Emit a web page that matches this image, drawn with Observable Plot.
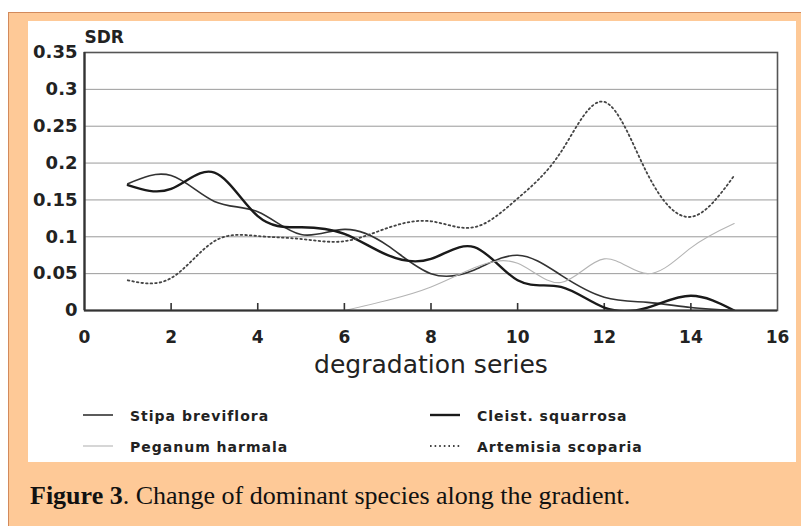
<!DOCTYPE html>
<html>
<head>
<meta charset="utf-8">
<script src="https://cdn.jsdelivr.net/npm/d3@7"></script>
<script src="https://cdn.jsdelivr.net/npm/@observablehq/plot@0.6"></script>
<style>
  html, body { margin: 0; padding: 0; background: #fff; width: 801px; height: 526px; overflow: hidden; }
  #outer { position: absolute; left: 8px; top: 12px; width: 800px; height: 520px; background: #fec997; border: 1px solid #d28a5c; }
  #panel { position: absolute; left: 28px; top: 21px; width: 768px; height: 441px; background: #fff; }
  #plot { position: absolute; left: 0; top: 0; }
  #legend { position: absolute; left: 0; top: 370px; }
  #caption { position: absolute; left: 30px; top: 483px; font-family: "Liberation Serif", "Times New Roman", serif; font-size: 26px; line-height: 26px; color: #111; white-space: nowrap; }
</style>
</head>
<body>
<div id="outer"></div>
<div id="panel"><div id="plot"></div><div id="legend"></div></div>
<div id="caption"><b>Figure 3</b>. Change of dominant species along the gradient.</div>
<script>
// ---- data ----
const sites = [1, 2, 3, 4, 5, 6, 7, 8, 9, 10, 11, 12, 13, 14, 15];
const stipa    = [0.172, 0.183, 0.148, 0.134, 0.103, 0.110, 0.088, 0.050, 0.055, 0.075, 0.048, 0.018, 0.011, 0.004, 0.000];
const cleist   = [0.170, 0.165, 0.187, 0.128, 0.113, 0.104, 0.075, 0.070, 0.086, 0.041, 0.032, 0.004, 0.004, 0.020, 0.000];
const peganumSites = [6, 7, 8, 9, 10, 11, 12, 13, 14, 15];
const peganum  = [0.000, 0.014, 0.032, 0.058, 0.064, 0.038, 0.070, 0.050, 0.085, 0.118];
const artemisia = [0.041, 0.044, 0.094, 0.101, 0.097, 0.094, 0.112, 0.121, 0.113, 0.152, 0.215, 0.283, 0.185, 0.127, 0.183];

const seriesNames = ["Stipa breviflora", "Cleist. squarrosa", "Peganum harmala", "Artemisia scoparia"];
const xTicks = [0, 2, 4, 6, 8, 10, 12, 14, 16];
const xTickMarks = [2, 4, 6, 8, 10, 12, 14];
const yTicks = [0, 0.05, 0.1, 0.15, 0.2, 0.25, 0.3, 0.35];
const yTickLabels = ["0", "0.05", "0.1", "0.15", "0.2", "0.25", "0.3", "0.35"];
const gridVals = [0.05, 0.1, 0.15, 0.2, 0.25, 0.3];
const yTitle = "SDR";
const xTitle = "degradation series";

// ---- styles ----
const styles = [
  {stroke: "#333", strokeWidth: 1.6},
  {stroke: "#1a1a1a", strokeWidth: 2.4},
  {stroke: "#b4b4b4", strokeWidth: 1.1},
  {stroke: "#444", strokeWidth: 1.8, strokeDasharray: "1.6,3"}
];

const rows = (xsArr, ys) => xsArr.map((x, i) => ({x, y: ys[i]}));
const lines = [
  rows(sites, stipa),
  rows(sites, cleist),
  rows(peganumSites, peganum),
  rows(sites, artemisia)
];

const W = 768, H = 370, mT = 31, mR = 19, mB = 81, mL = 56;
const innerH = H - mT - mB;

const chart = Plot.plot({
  width: W, height: H,
  marginTop: mT, marginRight: mR, marginBottom: mB, marginLeft: mL,
  x: {domain: [0, 16]},
  y: {domain: [0, 0.35]},
  style: {fontFamily: "DejaVu Sans", background: "transparent", color: "#222", overflow: "visible"},
  marks: [
    Plot.ruleY(gridVals, {stroke: "#9a9a9a", strokeWidth: 1}),
    Plot.ruleX(xTickMarks, {insetTop: innerH - 7, stroke: "#333", strokeWidth: 1.6}),
    ...lines.map((d, i) => Plot.line(d, {x: "x", y: "y", curve: "natural", clip: true, ...styles[i]})),
    Plot.frame({stroke: "#555", strokeWidth: 1.6}),
    Plot.ruleY([0], {stroke: "#333", strokeWidth: 2.2}),
    Plot.ruleX([0], {stroke: "#333", strokeWidth: 2.2}),
    Plot.axisY({ticks: yTicks, tickSize: 0, tickPadding: 7, tickFormat: (d, i) => yTickLabels[i],
      fontSize: 18, fontWeight: "bold", label: null, fill: "#222"}),
    Plot.axisX({ticks: xTicks, tickSize: 0, tickPadding: 20, fontSize: 17, fontWeight: "bold", label: null, fill: "#222"}),
    Plot.text([yTitle], {text: d => d, frameAnchor: "top-left", textAnchor: "start", lineAnchor: "bottom",
      dy: -10, fontSize: 17, fontWeight: "bold", fill: "#222"}),
    Plot.text([xTitle], {text: d => d, frameAnchor: "bottom", lineAnchor: "bottom",
      dy: 62, fontSize: 25, fill: "#222"})
  ]
});
document.getElementById("plot").appendChild(chart);

// ---- legend ----
const legendPos = [
  {lx: 55, tx: 102, row: 0},
  {lx: 402, tx: 449, row: 0},
  {lx: 55, tx: 102, row: 1},
  {lx: 402, tx: 449, row: 1}
];
const lg = d3.select("#legend").append("svg").attr("width", W).attr("height", 71)
  .style("font-family", "DejaVu Sans");
seriesNames.forEach((name, i) => {
  const p = legendPos[i];
  const yb = p.row === 0 ? 30 : 61;
  const s = styles[i];
  lg.append("line").attr("x1", p.lx).attr("x2", p.lx + 30).attr("y1", yb - 6).attr("y2", yb - 6)
    .attr("stroke", s.stroke).attr("stroke-width", s.strokeWidth)
    .attr("stroke-dasharray", s.strokeDasharray || null);
  lg.append("text").attr("x", p.tx).attr("y", yb).text(name)
    .attr("font-size", 14).attr("font-weight", "bold").attr("letter-spacing", 1).attr("fill", "#222");
});
</script>
</body>
</html>
